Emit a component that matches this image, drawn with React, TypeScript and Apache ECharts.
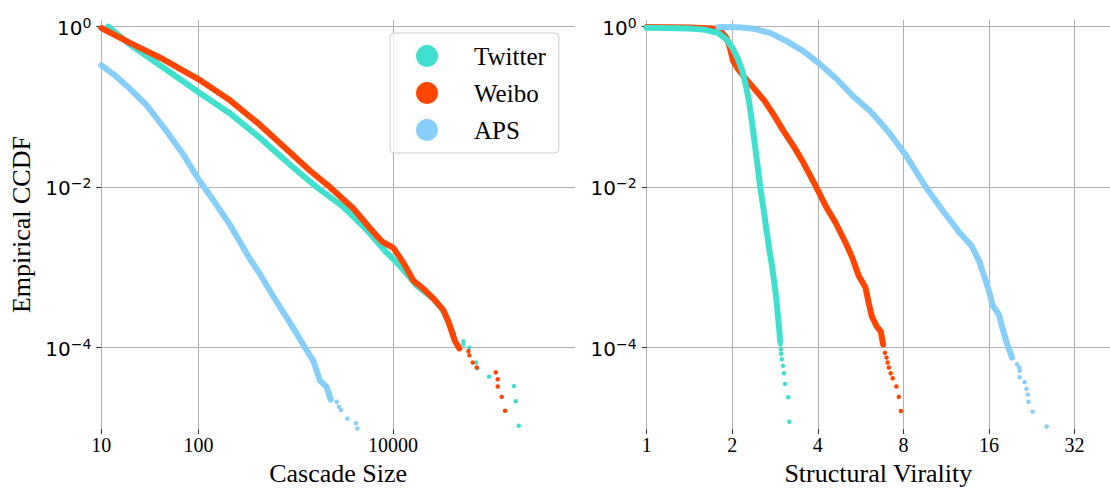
import React, { useEffect, useRef } from "react";
import * as echarts from "echarts";

// ---------- data ----------
const seriesNames = ["Twitter", "Weibo", "APS"];
const seriesColors = ["#40E0D0", "#FF4500", "#87CEFA"];

const sizeTicks = [10, 100, 10000];
const viralityTicks = [1, 2, 4, 8, 16, 32];
const ccdfTicks = [1e-4, 1e-2, 1];

// Cascade size panel: [size, CCDF]
const twitterSizeDense: [number, number][] = [
  [11.8, 1.0], [19.7, 0.597], [43.4, 0.309], [99.5, 0.153], [211, 0.0828], [430, 0.0409],
  [503, 0.0345], [944, 0.01754], [1644, 0.00997], [3090, 0.00567], [5370, 0.00294],
  [8630, 0.00152], [11830, 0.00104], [17580, 0.000593], [26060, 0.000408],
  [31770, 0.000308], [35800, 0.000232], [41800, 0.000145],
];
const twitterSizeTail: [number, number][] = [
  [53000, 1.2e-4], [53000, 1.09e-4], [61100, 9.95e-5], [71600, 6.52e-5], [73800, 5.54e-5],
  [97500, 4.34e-5], [176200, 3.31e-5], [183300, 2.14e-5], [196800, 1.06e-5],
];
const weiboSizeDense: [number, number][] = [
  [10, 0.96], [19.7, 0.626], [43.4, 0.391], [99.5, 0.222], [211, 0.1205], [430, 0.0595],
  [745, 0.0323], [1403, 0.01597], [2254, 0.00997], [3917, 0.0054], [5807, 0.00307],
  [7674, 0.00211], [10090, 0.00175], [12790, 0.001145], [16220, 0.000684], [20560, 0.000541],
  [26060, 0.000408], [33040, 0.000293], [37190, 0.000211], [40270, 0.000159],
  [43550, 0.00012], [48200, 0.0000975],
];
const weiboSizeTail: [number, number][] = [
  [59700, 9.03e-5], [61100, 8.0e-5], [66200, 6.5e-5], [72800, 5.65e-5], [114300, 4.91e-5],
  [119700, 4.03e-5], [119700, 3.27e-5], [131500, 2.43e-5], [142300, 1.63e-5],
];
const apsSizeDense: [number, number][] = [
  [10, 0.33], [13.3, 0.256], [19.7, 0.1676], [29.3, 0.1047], [47.1, 0.0494], [69.8, 0.0255],
  [99.5, 0.0126], [142, 0.00685], [211, 0.00338], [339, 0.00126], [430, 0.00082],
  [638, 0.00037], [944, 0.000175], [1247, 9.95e-5], [1517, 6.81e-5], [1778, 3.87e-5],
  [2084, 3.21e-5], [2291, 2.25e-5],
];
const apsSizeTail: [number, number][] = [
  [2642, 2.11e-5], [2788, 1.83e-5], [2924, 1.66e-5], [3397, 1.3e-5], [4169, 1.14e-5], [4302, 9.8e-6],
];

// Structural virality panel: [virality, CCDF]
const twitterViralityDense: [number, number][] = [
  [1, 0.965], [1.41, 0.945], [1.61, 0.911], [1.789, 0.83], [1.91, 0.687], [2.003, 0.544],
  [2.084, 0.41], [2.169, 0.281], [2.228, 0.193], [2.287, 0.1205], [2.342, 0.0685],
  [2.398, 0.0355], [2.456, 0.0184], [2.509, 0.00997], [2.576, 0.00536], [2.638, 0.00294],
  [2.701, 0.00167], [2.76, 0.00104], [2.811, 0.000651], [2.856, 0.000408], [2.901, 0.000232],
  [2.931, 0.000159], [2.948, 0.00012],
];
const twitterViralityTail: [number, number][] = [
  [2.954, 1.09e-4], [2.964, 9.48e-5], [2.971, 8.39e-5], [2.987, 7.15e-5], [3.018, 5.92e-5],
  [3.042, 4.78e-5], [3.067, 3.53e-5], [3.148, 2.4e-5], [3.174, 1.19e-5],
];
const weiboViralityDense: [number, number][] = [
  [1, 0.985], [1.41, 0.972], [1.789, 0.937], [1.91, 0.721], [1.962, 0.544], [2.014, 0.372],
  [2.096, 0.2946], [2.21, 0.233], [2.393, 0.1676], [2.59, 0.1205], [2.804, 0.0789],
  [3.035, 0.0494], [3.286, 0.0324], [3.557, 0.0202], [3.95, 0.01], [4.28, 0.00567],
  [4.63, 0.00354], [5.015, 0.00201], [5.29, 0.00132], [5.57, 0.000787], [5.88, 0.000565],
  [6.03, 0.00037], [6.2, 0.000243], [6.45, 0.000183], [6.66, 0.000159], [6.79, 0.000109],
];
const weiboViralityTail: [number, number][] = [
  [6.89, 8.63e-5], [6.98, 7.5e-5], [7.04, 6.52e-5], [7.11, 5.65e-5], [7.22, 4.78e-5],
  [7.34, 4.15e-5], [7.56, 3.27e-5], [7.71, 2.43e-5], [7.84, 1.62e-5],
];
const apsViralityDense: [number, number][] = [
  [1.789, 0.985], [2.096, 0.98], [2.393, 0.937], [2.73, 0.83], [3.116, 0.655], [3.557, 0.494],
  [4.006, 0.356], [4.66, 0.222], [5.29, 0.1387], [6.15, 0.0869], [7.07, 0.0494],
  [8.13, 0.0255], [9.6, 0.00997], [11.08, 0.00492], [12.65, 0.00267], [13.9, 0.00185],
  [14.8, 0.00118], [15.5, 0.00072], [16.05, 0.000491], [16.48, 0.000337], [17.37, 0.000255],
  [17.84, 0.000175], [18.56, 0.000109], [19.31, 7.5e-5],
];
const apsViralityTail: [number, number][] = [
  [20.09, 6.21e-5], [20.46, 5.65e-5], [20.52, 5.14e-5], [20.52, 4.27e-5], [21.35, 3.71e-5],
  [21.69, 3.07e-5], [21.92, 2.59e-5], [22.04, 2.11e-5], [22.8, 1.59e-5], [25.55, 1.04e-5],
];

// ---------- styling ----------
const SERIF = "'Liberation Serif', 'Times New Roman', serif";
const SANS = "'DejaVu Sans', sans-serif";
const GRID_COLOR = "#b0b0b0";
const TICK_COLOR = "#333";

function yAxisFor(gridIndex: number, withName: boolean) {
  return {
    type: "log",
    gridIndex,
    min: Math.pow(10, -5.016),
    max: Math.pow(10, 0.0821),
    axisLine: { show: false },
    axisTick: { show: true, length: 5, lineStyle: { color: TICK_COLOR, width: 1 }, customValues: ccdfTicks },
    splitLine: { show: true, lineStyle: { color: GRID_COLOR, width: 1 } },
    axisLabel: {
      customValues: ccdfTicks,
      margin: 10,
      formatter: (v: number) => {
        const e = Math.round(Math.log10(v));
        const s = e < 0 ? "\u2212" + -e : String(e);
        return `{b|10}{s|${s}}`;
      },
      rich: {
        b: { fontFamily: SANS, fontSize: 20, color: "#000", verticalAlign: "bottom", lineHeight: 22 },
        s: { fontFamily: SANS, fontSize: 14, color: "#000", verticalAlign: "bottom", lineHeight: 14, padding: [0, 0, 8, 0] },
      },
    },
    name: withName ? "Empirical CCDF" : "",
    nameLocation: "middle",
    nameGap: 67,
    nameRotate: 90,
    nameTextStyle: { fontFamily: SERIF, fontSize: 26, color: "#000" },
  };
}

function xAxisFor(gridIndex: number, base: number, min: number, max: number, ticks: number[], name: string) {
  return {
    type: "log",
    logBase: base,
    gridIndex,
    min,
    max,
    axisLine: { show: false },
    axisTick: { show: true, length: 5, lineStyle: { color: TICK_COLOR, width: 1 }, customValues: ticks },
    splitLine: { show: true, lineStyle: { color: GRID_COLOR, width: 1 } },
    axisLabel: {
      customValues: ticks,
      margin: 6,
      fontFamily: SERIF,
      fontSize: 20,
      color: "#000",
      formatter: (v: number) => String(Math.round(v)),
    },
    name,
    nameLocation: "middle",
    nameGap: 29,
    nameTextStyle: { fontFamily: SERIF, fontSize: 26, color: "#000" },
  };
}

function denseSeries(name: string, color: string, data: [number, number][], idx: number, z: number) {
  return {
    name,
    type: "line",
    xAxisIndex: idx,
    yAxisIndex: idx,
    data,
    showSymbol: false,
    symbol: "none",
    z,
    itemStyle: { color },
    lineStyle: { color, width: 6, cap: "round", join: "round" },
    emphasis: { disabled: true },
  };
}

function tailSeries(name: string, color: string, data: [number, number][], idx: number, z: number) {
  return {
    name,
    type: "scatter",
    xAxisIndex: idx,
    yAxisIndex: idx,
    data,
    symbol: "circle",
    symbolSize: 4.5,
    z,
    itemStyle: { color, opacity: 1 },
    emphasis: { disabled: true },
  };
}

export default function App() {
  const ref = useRef<HTMLDivElement>(null);

  useEffect(() => {
    if (!ref.current) return;
    const chart = echarts.init(ref.current, undefined, { renderer: "svg" });
    const [cT, cW, cA] = seriesColors;
    const [nT, nW, nA] = seriesNames;
    const option = {
      animation: false,
      backgroundColor: "#ffffff",
      grid: [
        { left: 101.3, top: 20, width: 473.7, height: 416 },
        { left: 646.7, top: 20, width: 473.3, height: 416 },
      ],
      xAxis: [
        xAxisFor(0, 10, 10, Math.pow(10, 5.873), sizeTicks, "Cascade Size"),
        xAxisFor(1, 2, 1, Math.pow(2, 5.415), viralityTicks, "Structural Virality"),
      ],
      yAxis: [yAxisFor(0, true), yAxisFor(1, false)],
      legend: {
        data: seriesNames,
        orient: "vertical",
        left: 390,
        top: 33,
        icon: "circle",
        itemWidth: 22,
        itemHeight: 22,
        itemGap: 11,
        padding: [10, 13, 10, 26],
        selectedMode: false,
        backgroundColor: "rgba(255,255,255,0.8)",
        borderColor: "#cccccc",
        borderWidth: 1,
        borderRadius: 4,
        textStyle: { fontFamily: SERIF, fontSize: 25, color: "#000", lineHeight: 26, padding: [0, 0, 0, 31] },
      },
      series: [
        // left panel: Twitter, Weibo, APS
        denseSeries(nT, cT, twitterSizeDense, 0, 2),
        tailSeries(nT, cT, twitterSizeTail, 0, 2),
        denseSeries(nW, cW, weiboSizeDense, 0, 3),
        tailSeries(nW, cW, weiboSizeTail, 0, 3),
        denseSeries(nA, cA, apsSizeDense, 0, 4),
        tailSeries(nA, cA, apsSizeTail, 0, 4),
        // right panel: Weibo below Twitter, APS on top
        denseSeries(nT, cT, twitterViralityDense, 1, 3),
        tailSeries(nT, cT, twitterViralityTail, 1, 3),
        denseSeries(nW, cW, weiboViralityDense, 1, 2),
        tailSeries(nW, cW, weiboViralityTail, 1, 2),
        denseSeries(nA, cA, apsViralityDense, 1, 4),
        tailSeries(nA, cA, apsViralityTail, 1, 4),
      ],
    };
    chart.setOption(option as any);
    return () => chart.dispose();
  }, []);

  return (
    <div
      ref={ref}
      style={{ position: "fixed", left: 0, top: 0, width: 1110, height: 491, background: "#fff" }}
    />
  );
}
